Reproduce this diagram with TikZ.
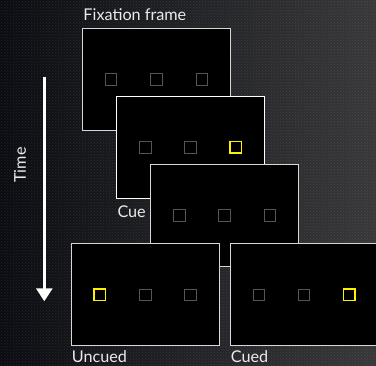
\documentclass[tikz,border=0pt]{standalone}
\usepackage{fontspec}
\setmainfont{Lato}
\usetikzlibrary{positioning}
\usetikzlibrary{arrows.meta}
\usetikzlibrary{patterns}
\definecolor{bgdark}{RGB}{10,12,17}
\definecolor{bglight}{RGB}{56,56,58}
\definecolor{spotgrey}{RGB}{85,85,85}
\definecolor{rimwhite}{RGB}{215,215,215}

\begin{document}
\begin{tikzpicture}[x=1pt, y=-1pt,
    frame/.style={draw=rimwhite, line width=0.9pt, fill=black, minimum width=147.5pt, minimum height=102pt, inner sep=0pt},
    spot/.style={draw=spotgrey, line width=0.9pt, minimum size=11.5pt, inner sep=0pt},
    cuespot/.style={draw=yellow, line width=1.4pt, minimum size=11.5pt, inner sep=0pt},
    lbl/.style={text=white!92!black, font=\fontsize{16.2}{18}\selectfont, inner sep=0pt}]
    % background
    \shade[left color=bgdark, right color=bglight] (0,0) rectangle (376,366);
    \fill[pattern=crosshatch dots, pattern color=white, opacity=0.1] (0,0) rectangle (376,366);
    \useasboundingbox (0,0) rectangle (376,366);

    % time axis
    \coordinate (ttop) at (44.3,76.7);
    \coordinate (tbot) at (44.3,301.3);
    \draw[white, line width=3pt, -{Triangle[length=13pt, width=16pt]}] (ttop) -- (tbot);
    \node[lbl, rotate=90, anchor=base] (time) at (26,165) {Time};

    % fixation frame
    \node[frame] (fix) at (156.4,79.3) {};
    \node[lbl, anchor=base west] (fixlbl) at (83.3,20.7) {Fixation frame};
    \node[spot] (fixa) at ([xshift=-45.3pt]fix.center) {};
    \node[spot] (fixb) at (fix.center) {};
    \node[spot] (fixc) at ([xshift=45.3pt]fix.center) {};

    % cue frame
    \node[frame, draw=white] (cue) at (190.5,147.3) {};
    \node[spot] (cuea) at ([xshift=-45.3pt]cue.center) {};
    \node[spot] (cueb) at (cue.center) {};
    \node[cuespot] (cuec) at ([xshift=45.3pt]cue.center) {};
    \node[lbl, anchor=base west] (cuelbl) at (117.3,217.3) {Cue};

    % blank frame
    \node[frame] (blank) at (224.5,215.3) {};
    \node[spot] (blanka) at ([xshift=-45.3pt]blank.center) {};
    \node[spot] (blankb) at (blank.center) {};
    \node[spot] (blankc) at ([xshift=45.3pt]blank.center) {};

    % uncued target
    \node[frame] (uncued) at (145.2,294.9) {};
    \node[cuespot] (uncueda) at ([xshift=-45.3pt]uncued.center) {};
    \node[spot] (uncuedb) at (uncued.center) {};
    \node[spot] (uncuedc) at ([xshift=45.3pt]uncued.center) {};
    \node[lbl, anchor=base west] (uncuedlbl) at (71.7,362.5) {Uncued};

    % cued target
    \node[frame] (cued) at (304,294.9) {};
    \node[spot] (cueda) at ([xshift=-45.3pt]cued.center) {};
    \node[spot] (cuedb) at (cued.center) {};
    \node[cuespot] (cuedc) at ([xshift=45.3pt]cued.center) {};
    \node[lbl, anchor=base west] (cuedlbl) at (230.7,362.5) {Cued};
\end{tikzpicture}
\end{document}
